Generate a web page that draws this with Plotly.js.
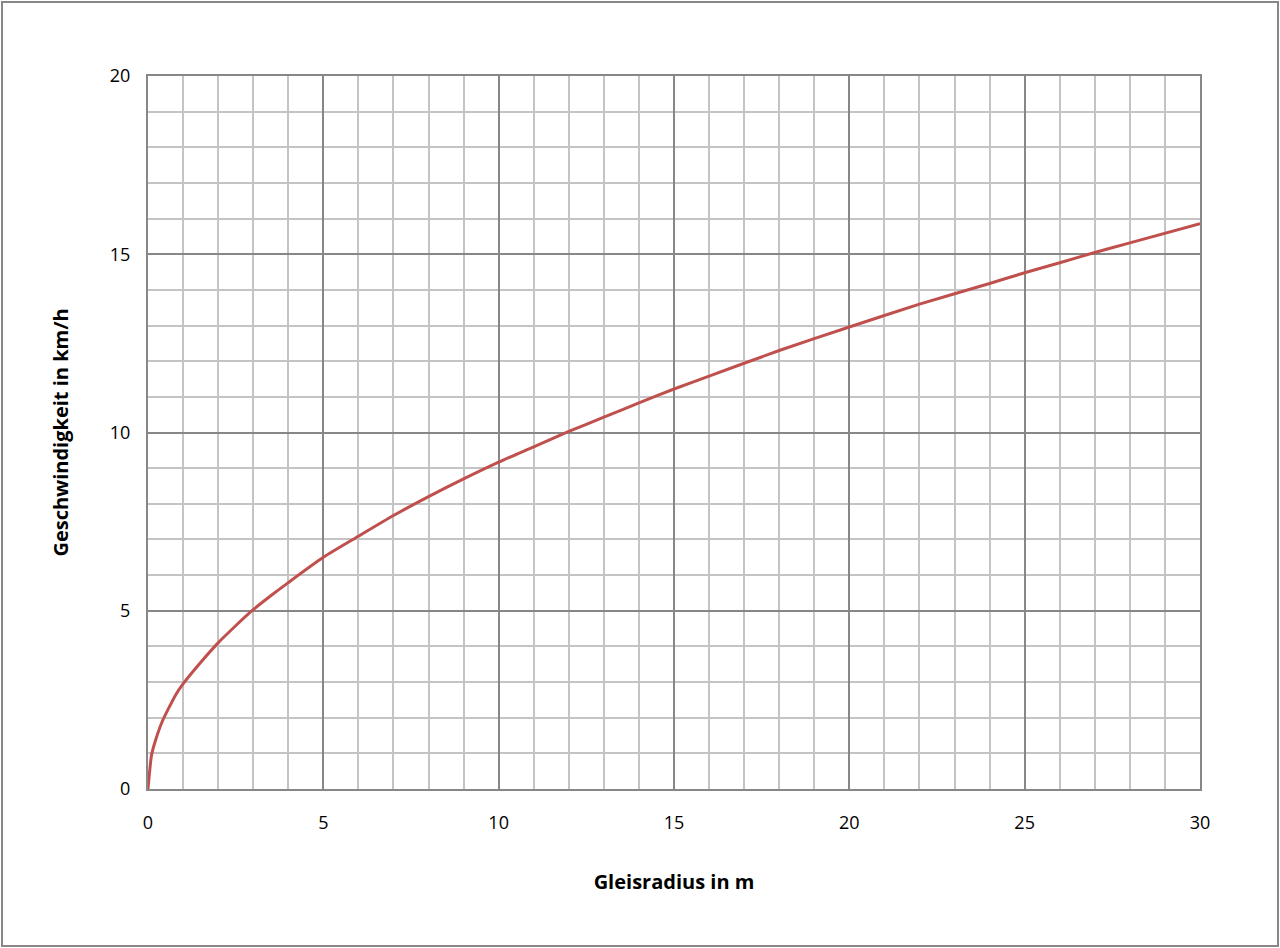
<!DOCTYPE html>
<html>
<head>
<meta charset="utf-8">
<script src="https://cdn.plot.ly/plotly-3.0.1.min.js"></script>
<style>
html,body{margin:0;padding:0;background:#fff;}
#wrap{position:relative;width:1280px;height:948px;}
#chart{width:1280px;height:948px;}
#frame{position:absolute;left:1px;top:1px;width:1274px;height:942px;border:2px solid #878787;pointer-events:none;}
</style>
</head>
<body>
<div id="wrap"><div id="chart"></div><div id="frame"></div></div>
<script>
// Gleisradius in m
const radius = [0, 0.1, 0.2, 0.4, 0.8, 1, 1.5, 2, 2.5, 3, 3.5, 4, 5, 6, 7, 8, 9, 10, 11, 12, 13, 14, 15, 16, 18, 20, 22, 24, 25, 26, 27, 28, 30];
// Geschwindigkeit in km/h
const speed = [0, 0.95, 1.32, 1.88, 2.66, 2.95, 3.55, 4.1, 4.58, 5.03, 5.42, 5.79, 6.5, 7.09, 7.67, 8.2, 8.7, 9.17, 9.6, 10.03, 10.43, 10.83, 11.22, 11.58, 12.3, 12.96, 13.6, 14.18, 14.48, 14.76, 15.05, 15.32, 15.86];
const xTicks = [0, 5, 10, 15, 20, 25, 30];
const yTicks = [0, 5, 10, 15, 20];

const fontFam = 'Open Sans, Liberation Sans, sans-serif';
const trace = {
  x: radius, y: speed, type: 'scatter', mode: 'lines',
  line: {color: '#c0504d', width: 3, shape: 'spline', smoothing: 0.6},
  hoverinfo: 'skip', showlegend: false
};
const layout = {
  width: 1280, height: 948,
  margin: {l: 148, r: 80, t: 76, b: 159},
  paper_bgcolor: '#ffffff', plot_bgcolor: '#ffffff',
  font: {family: fontFam, size: 18, color: '#000'},
  xaxis: {
    range: [0, 30], tickvals: xTicks, ticktext: xTicks.map(String),
    showgrid: true, gridcolor: '#878787', gridwidth: 2,
    minor: {dtick: 1, showgrid: true, gridcolor: '#c4c4c4', gridwidth: 2, ticks: ''},
    showline: true, mirror: true, linecolor: '#878787', linewidth: 2,
    zeroline: false, ticks: 'outside', ticklen: 16, tickcolor: 'rgba(0,0,0,0)',
    tickfont: {size: 18, family: fontFam, color: '#000'},
    title: {text: 'Gleisradius in m', font: {size: 20, family: fontFam, color: '#000', weight: 'bold'}, standoff: 42}
  },
  yaxis: {
    range: [0, 20], tickvals: yTicks, ticktext: yTicks.map(String),
    showgrid: true, gridcolor: '#878787', gridwidth: 2,
    minor: {dtick: 1, showgrid: true, gridcolor: '#c4c4c4', gridwidth: 2, ticks: ''},
    showline: true, mirror: true, linecolor: '#878787', linewidth: 2,
    zeroline: false, ticks: 'outside', ticklen: 12, tickcolor: 'rgba(0,0,0,0)',
    tickfont: {size: 18, family: fontFam, color: '#000'},
    title: {text: 'Geschwindigkeit in km/h', font: {size: 20, family: fontFam, color: '#000', weight: 'bold'}, standoff: 36}
  }
};
Plotly.newPlot('chart', [trace], layout, {staticPlot: true, displayModeBar: false});
</script>
</body>
</html>
